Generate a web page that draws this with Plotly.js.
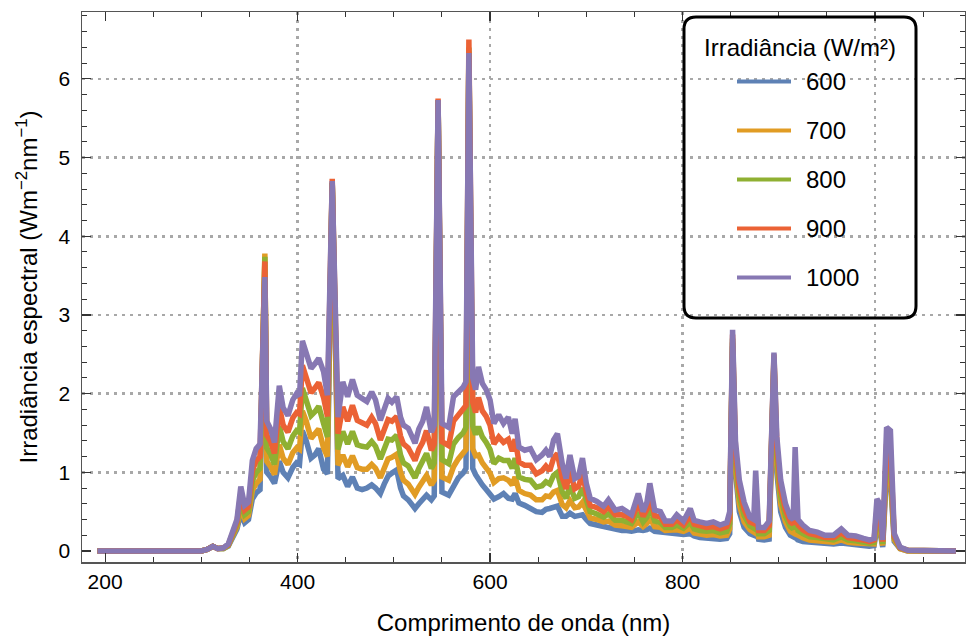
<!DOCTYPE html>
<html>
<head>
<meta charset="utf-8">
<script src="https://cdn.plot.ly/plotly-3.0.1.min.js"></script>
<style>
  html, body { margin: 0; padding: 0; background: #ffffff; }
  #chart { width: 966px; height: 636px; }
</style>
</head>
<body>
<div id="chart"></div>
<script>
// Wavelength samples (nm)
const wavelength = [
  192, 250, 300, 306, 312, 317, 323, 328, 333, 337,
  341, 345, 349, 353, 357, 361, 366, 368, 372, 376,
  381, 385, 390, 395, 399, 402, 405, 409, 414, 418,
  422, 427, 431, 436, 442, 447, 452, 457, 462, 467,
  472, 477, 481, 486, 490, 494, 498, 503, 507, 510,
  515, 519, 522, 526, 530, 534, 539, 542, 546, 550,
  557, 562, 567, 572, 575, 578, 582, 585, 588, 592,
  596, 600, 604, 609, 614, 619, 623, 626, 630, 636,
  642, 648, 654, 658, 662, 666, 670, 675, 679, 683,
  688, 692, 696, 700, 704, 711, 718, 723, 730, 737,
  742, 747, 754, 759, 763, 766, 771, 777, 782, 789,
  794, 801, 808, 812, 818, 825, 832, 839, 846, 849,
  852, 855, 859, 864, 870, 874, 876, 879, 885, 890,
  895, 898, 902, 907, 912, 915, 917, 920, 925, 932,
  940, 948, 957, 965, 972, 980, 988, 994, 999, 1002,
  1005, 1008, 1012, 1016, 1020, 1026, 1034, 1084
];

// Spectral irradiance (W m^-2 nm^-1) at 600 W/m²
const irr600 = [
  0, 0, 0, 0.02, 0.06, 0.03, 0.03, 0.06, 0.18, 0.28,
  0.48, 0.36, 0.40, 0.66, 0.74, 0.78, 3.55, 1.00, 0.94, 0.86,
  1.14, 1.00, 0.93, 1.06, 1.12, 1.10, 1.53, 1.40, 1.18, 1.22,
  1.30, 1.04, 0.98, 4.68, 0.92, 0.96, 0.82, 0.94, 0.80, 0.78,
  0.80, 0.84, 0.80, 0.73, 0.85, 0.95, 0.99, 1.03, 0.80, 0.70,
  0.65, 0.60, 0.54, 0.60, 0.66, 0.71, 0.65, 0.70, 5.73, 0.75,
  0.71, 0.82, 0.93, 0.99, 1.05, 6.30, 1.05, 0.97, 0.90, 0.84,
  0.78, 0.73, 0.66, 0.69, 0.73, 0.67, 0.66, 0.73, 0.61, 0.58,
  0.54, 0.50, 0.49, 0.53, 0.54, 0.56, 0.57, 0.44, 0.44, 0.48,
  0.44, 0.45, 0.46, 0.40, 0.35, 0.33, 0.31, 0.31, 0.28, 0.26,
  0.26, 0.25, 0.27, 0.26, 0.27, 0.29, 0.25, 0.24, 0.23, 0.22,
  0.22, 0.21, 0.22, 0.19, 0.17, 0.16, 0.16, 0.15, 0.16, 0.22,
  2.60, 1.00, 0.50, 0.30, 0.22, 0.20, 0.32, 0.15, 0.14, 0.15,
  2.40, 1.00, 0.50, 0.30, 0.20, 0.18, 0.35, 0.14, 0.12, 0.11,
  0.10, 0.10, 0.09, 0.10, 0.09, 0.08, 0.07, 0.06, 0.07, 0.30,
  0.25, 0.05, 1.00, 0.90, 0.12, 0.03, 0, 0
];

// at 700 W/m²
const irr700 = [
  0, 0, 0, 0.02, 0.06, 0.03, 0.03, 0.07, 0.20, 0.31,
  0.55, 0.41, 0.45, 0.77, 0.86, 0.91, 3.78, 1.14, 1.07, 0.97,
  1.35, 1.18, 1.10, 1.25, 1.31, 1.29, 1.78, 1.65, 1.43, 1.48,
  1.55, 1.31, 1.20, 4.68, 1.09, 1.22, 1.07, 1.21, 1.06, 1.04,
  1.04, 1.10, 1.05, 0.93, 1.06, 1.17, 1.19, 1.23, 1.00, 0.90,
  0.85, 0.79, 0.72, 0.81, 0.88, 0.96, 0.84, 0.90, 5.73, 0.94,
  0.90, 1.07, 1.17, 1.23, 1.29, 6.35, 1.30, 1.21, 1.22, 1.12,
  1.06, 0.99, 0.87, 0.92, 0.93, 0.90, 0.84, 0.94, 0.77, 0.73,
  0.71, 0.65, 0.65, 0.70, 0.69, 0.75, 0.77, 0.59, 0.55, 0.64,
  0.55, 0.56, 0.62, 0.50, 0.42, 0.40, 0.37, 0.38, 0.33, 0.32,
  0.31, 0.30, 0.37, 0.31, 0.35, 0.42, 0.31, 0.30, 0.26, 0.26,
  0.27, 0.25, 0.29, 0.23, 0.21, 0.20, 0.21, 0.19, 0.20, 0.28,
  2.65, 1.09, 0.59, 0.37, 0.27, 0.24, 0.36, 0.18, 0.18, 0.20,
  2.43, 1.10, 0.59, 0.37, 0.25, 0.23, 0.42, 0.20, 0.17, 0.14,
  0.13, 0.12, 0.11, 0.14, 0.11, 0.10, 0.09, 0.08, 0.09, 0.36,
  0.31, 0.07, 1.10, 1.00, 0.14, 0.03, 0, 0
];

// at 800 W/m²
const irr800 = [
  0, 0, 0, 0.02, 0.06, 0.03, 0.03, 0.07, 0.22, 0.34,
  0.64, 0.46, 0.50, 0.89, 1.00, 1.05, 3.74, 1.31, 1.23, 1.10,
  1.59, 1.39, 1.30, 1.46, 1.53, 1.51, 2.07, 1.93, 1.72, 1.77,
  1.84, 1.62, 1.45, 4.68, 1.29, 1.52, 1.36, 1.52, 1.35, 1.33,
  1.32, 1.39, 1.33, 1.17, 1.30, 1.42, 1.41, 1.47, 1.22, 1.12,
  1.08, 1.00, 0.93, 1.05, 1.13, 1.24, 1.05, 1.12, 5.73, 1.16,
  1.11, 1.36, 1.44, 1.50, 1.57, 6.40, 1.59, 1.48, 1.58, 1.45,
  1.38, 1.29, 1.11, 1.18, 1.15, 1.15, 1.05, 1.18, 0.94, 0.91,
  0.90, 0.81, 0.83, 0.88, 0.85, 0.96, 1.00, 0.75, 0.67, 0.83,
  0.67, 0.69, 0.80, 0.62, 0.50, 0.47, 0.43, 0.47, 0.39, 0.39,
  0.37, 0.35, 0.49, 0.37, 0.43, 0.56, 0.38, 0.36, 0.30, 0.30,
  0.33, 0.29, 0.37, 0.28, 0.26, 0.25, 0.26, 0.23, 0.25, 0.35,
  2.70, 1.19, 0.69, 0.45, 0.32, 0.29, 0.40, 0.22, 0.22, 0.26,
  2.46, 1.21, 0.69, 0.44, 0.31, 0.28, 0.48, 0.26, 0.22, 0.18,
  0.17, 0.15, 0.14, 0.18, 0.14, 0.13, 0.11, 0.10, 0.11, 0.42,
  0.37, 0.09, 1.22, 1.12, 0.17, 0.04, 0.01, 0
];

// at 900 W/m²
const irr900 = [
  0, 0, 0, 0.02, 0.06, 0.03, 0.04, 0.08, 0.24, 0.37,
  0.73, 0.52, 0.56, 1.02, 1.15, 1.20, 3.68, 1.47, 1.39, 1.24,
  1.84, 1.60, 1.51, 1.69, 1.76, 1.74, 2.36, 2.22, 2.01, 2.07,
  2.14, 1.95, 1.71, 4.73, 1.49, 1.83, 1.65, 1.85, 1.66, 1.63,
  1.60, 1.70, 1.62, 1.41, 1.54, 1.67, 1.65, 1.71, 1.46, 1.36,
  1.31, 1.22, 1.15, 1.29, 1.38, 1.53, 1.28, 1.36, 5.75, 1.39,
  1.34, 1.65, 1.73, 1.79, 1.85, 6.50, 1.89, 1.76, 1.95, 1.78,
  1.71, 1.60, 1.36, 1.45, 1.38, 1.42, 1.27, 1.42, 1.13, 1.09,
  1.09, 0.98, 1.02, 1.08, 1.02, 1.18, 1.24, 0.93, 0.79, 1.02,
  0.79, 0.82, 0.99, 0.74, 0.58, 0.55, 0.50, 0.56, 0.46, 0.46,
  0.44, 0.40, 0.61, 0.44, 0.53, 0.71, 0.45, 0.43, 0.34, 0.34,
  0.40, 0.33, 0.45, 0.34, 0.32, 0.30, 0.31, 0.28, 0.31, 0.42,
  2.75, 1.29, 0.79, 0.53, 0.37, 0.35, 0.45, 0.26, 0.26, 0.32,
  2.50, 1.33, 0.79, 0.52, 0.37, 0.34, 0.56, 0.33, 0.27, 0.22,
  0.20, 0.17, 0.17, 0.23, 0.17, 0.16, 0.14, 0.12, 0.14, 0.52,
  0.46, 0.12, 1.36, 1.28, 0.19, 0.04, 0.01, 0
];

// at 1000 W/m²
const irr1000 = [
  0, 0, 0, 0.02, 0.06, 0.03, 0.04, 0.09, 0.26, 0.40,
  0.82, 0.58, 0.62, 1.15, 1.30, 1.36, 3.48, 1.65, 1.55, 1.38,
  2.10, 1.82, 1.72, 1.92, 2.00, 1.97, 2.67, 2.52, 2.32, 2.38,
  2.45, 2.28, 1.98, 4.70, 1.70, 2.15, 1.96, 2.18, 1.98, 1.94,
  1.90, 2.02, 1.92, 1.66, 1.80, 1.94, 1.89, 1.96, 1.70, 1.60,
  1.56, 1.45, 1.37, 1.55, 1.65, 1.83, 1.51, 1.60, 5.73, 1.62,
  1.57, 1.96, 2.02, 2.08, 2.15, 6.33, 2.20, 2.05, 2.34, 2.13,
  2.05, 1.92, 1.62, 1.73, 1.62, 1.70, 1.49, 1.68, 1.32, 1.28,
  1.30, 1.16, 1.22, 1.28, 1.20, 1.41, 1.49, 1.11, 0.92, 1.22,
  0.92, 0.95, 1.18, 0.86, 0.67, 0.63, 0.57, 0.65, 0.52, 0.54,
  0.50, 0.46, 0.73, 0.50, 0.62, 0.86, 0.52, 0.50, 0.38, 0.38,
  0.46, 0.38, 0.54, 0.39, 0.37, 0.35, 0.37, 0.33, 0.36, 0.50,
  2.81, 1.40, 0.90, 0.62, 0.43, 0.40, 1.02, 0.30, 0.30, 0.38,
  2.52, 1.45, 0.90, 0.60, 0.43, 0.40, 1.32, 0.40, 0.33, 0.26,
  0.24, 0.20, 0.20, 0.28, 0.20, 0.19, 0.16, 0.14, 0.16, 0.66,
  0.60, 0.14, 1.57, 1.53, 0.22, 0.05, 0.01, 0
];

const seriesNames = ['600', '700', '800', '900', '1000'];
const seriesColors = ['#5E81B5', '#E19C24', '#8FB032', '#EB6235', '#8778B3'];
const legendTitle = 'Irradiância (W/m²)';
const xTitle = 'Comprimento de onda (nm)';
const yTitle = 'Irradiância espectral (Wm<sup>\u22122</sup>nm<sup>\u22121</sup>)';
const xGridVals = [400, 600, 800, 1000];
const yGridVals = [1, 2, 3, 4, 5, 6];

const seriesValues = [irr600, irr700, irr800, irr900, irr1000];

// Page geometry (px)
const W = 966, H = 636;
const M = { l: 82, r: 1, t: 12, b: 74 };
const plotW = W - M.l - M.r, plotH = H - M.t - M.b;
const px2x = px => (px - M.l) / plotW;
const px2y = py => (H - M.b - py) / plotH;

const FONT = 'Liberation Sans, Arial, sans-serif';
const xRange = [176, 1093.5];
const yRange = [-0.14, 6.85];

const traces = seriesValues.map((vals, i) => ({
  x: wavelength,
  y: vals,
  type: 'scatter',
  mode: 'lines',
  name: seriesNames[i],
  line: { color: seriesColors[i], width: 5.5 },
  showlegend: false,
  hoverinfo: 'skip'
}));

// empty trace that carries the overlay axes used for the dotted grid
traces.unshift({ x: [], y: [], xaxis: 'x2', yaxis: 'y2', type: 'scatter', mode: 'lines', showlegend: false, hoverinfo: 'skip' });

// Legend: rounded frame, title, swatches and labels
const box = { x0: px2x(684), x1: px2x(916), y0: px2y(318), y1: px2y(17) };
const rx = 12 / plotW, ry = 12 / plotH;
const roundPath =
  `M${box.x0 + rx},${box.y1} L${box.x1 - rx},${box.y1} Q${box.x1},${box.y1} ${box.x1},${box.y1 - ry} ` +
  `L${box.x1},${box.y0 + ry} Q${box.x1},${box.y0} ${box.x1 - rx},${box.y0} ` +
  `L${box.x0 + rx},${box.y0} Q${box.x0},${box.y0} ${box.x0},${box.y0 + ry} ` +
  `L${box.x0},${box.y1 - ry} Q${box.x0},${box.y1} ${box.x0 + rx},${box.y1} Z`;

const shapes = [{
  type: 'path', xref: 'paper', yref: 'paper', path: roundPath,
  line: { color: '#000000', width: 3 }, fillcolor: 'rgba(0,0,0,0)', layer: 'above'
}];
const annotations = [{
  xref: 'paper', yref: 'paper', x: px2x(800), y: px2y(48),
  text: legendTitle, showarrow: false, xanchor: 'center', yanchor: 'middle',
  font: { family: FONT, size: 24, color: '#000' }
}];
seriesNames.forEach((name, i) => {
  const yy = px2y(81.5 + i * 49);
  shapes.push({
    type: 'line', xref: 'paper', yref: 'paper',
    x0: px2x(737), x1: px2x(791), y0: yy, y1: yy,
    line: { color: seriesColors[i], width: 4 }, layer: 'above'
  });
  annotations.push({
    xref: 'paper', yref: 'paper', x: px2x(804), y: yy,
    text: name, showarrow: false, xanchor: 'left', yanchor: 'middle',
    font: { family: FONT, size: 24, color: '#000' }
  });
});

const frameColor = '#555555';
const tickColor = '#333333';
const gridColor = '#a8a8a8';

const layout = {
  width: W, height: H,
  margin: M,
  paper_bgcolor: '#ffffff',
  plot_bgcolor: '#ffffff',
  font: { family: FONT, size: 21, color: '#000' },
  showlegend: false,
  xaxis: {
    range: xRange, tickmode: 'linear', tick0: 0, dtick: 200,
    ticks: 'inside', ticklen: 9, tickwidth: 1.2, tickcolor: tickColor,
    minor: { tickmode: 'linear', tick0: 0, dtick: 50, ticks: 'inside', ticklen: 5, tickwidth: 1, tickcolor: tickColor },
    showline: true, linecolor: frameColor, linewidth: 1.5, mirror: 'ticks',
    showgrid: false, zeroline: false,
    tickfont: { family: FONT, size: 21, color: '#000' },
    title: { text: xTitle, font: { family: FONT, size: 24, color: '#000' }, standoff: 22 }
  },
  yaxis: {
    range: yRange, tickmode: 'linear', tick0: 0, dtick: 1,
    ticks: 'inside', ticklen: 9, tickwidth: 1.2, tickcolor: tickColor,
    minor: { tickmode: 'linear', tick0: 0, dtick: 0.2, ticks: 'inside', ticklen: 5, tickwidth: 1, tickcolor: tickColor },
    showline: true, linecolor: frameColor, linewidth: 1.5, mirror: 'ticks',
    showgrid: false, zeroline: false, ticklabelstandoff: 6,
    tickfont: { family: FONT, size: 21, color: '#000' },
    title: { text: yTitle, font: { family: FONT, size: 24, color: '#000' }, standoff: 14 }
  },
  xaxis2: {
    overlaying: 'x', range: xRange, tickmode: 'array', tickvals: xGridVals,
    showgrid: true, gridcolor: gridColor, gridwidth: 2.5, griddash: '2.5px,5.5px',
    showticklabels: false, ticks: '', showline: false, zeroline: false
  },
  yaxis2: {
    overlaying: 'y', range: yRange, tickmode: 'array', tickvals: yGridVals,
    showgrid: true, gridcolor: gridColor, gridwidth: 2.5, griddash: '2.5px,5.5px',
    showticklabels: false, ticks: '', showline: false, zeroline: false
  },
  shapes: shapes,
  annotations: annotations
};

Plotly.newPlot('chart', traces, layout, { displayModeBar: false, staticPlot: true });
</script>
</body>
</html>
